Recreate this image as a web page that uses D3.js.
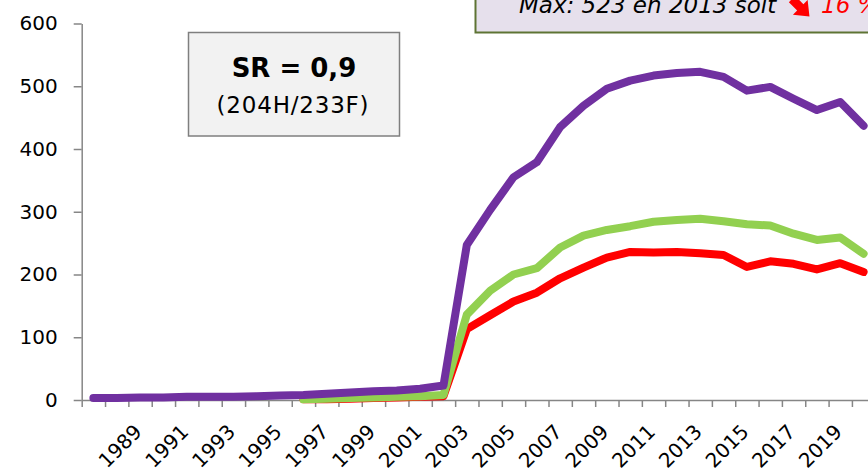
<!DOCTYPE html>
<html lang="fr">
<head>
<meta charset="utf-8">
<script src="https://d3js.org/d3.v7.min.js"></script>
<style>
  body { margin: 0; background: #fff; overflow: hidden; }
  svg text { font-family: "DejaVu Sans", sans-serif; }
</style>
</head>
<body>
<svg id="chart" width="868" height="474"></svg>
<script>

// annees (categories)
var years = [1987, 1988, 1989, 1990, 1991, 1992, 1993, 1994, 1995, 1996, 1997, 1998,
             1999, 2000, 2001, 2002, 2003, 2004, 2005, 2006, 2007, 2008, 2009, 2010,
             2011, 2012, 2013, 2014, 2015, 2016, 2017, 2018, 2019, 2020];

// total (violet)
var total = [3, 3, 4, 4, 5, 5, 5, 6, 7, 8, 10, 12,
             14, 15, 18, 23, 247, 303, 355, 379, 435, 469, 496, 509,
             517, 521, 523, 515, 493, 499, 480, 462, 475, 437];

// femmes (vert)
var femmes = [null, null, null, null, null, null, null, null, null, 1, 2, 3,
              4, 5, 6, 8, 136, 174, 200, 210, 243, 262, 271, 277,
              284, 287, 289, 285, 280, 278, 265, 255, 259, 233];

// hommes (rouge)
var hommes = [null, null, null, null, null, null, null, null, null, 1, 1, 2,
              3, 4, 5, 6, 113, 135, 157, 171, 194, 211, 227, 236,
              235, 236, 234, 231, 212, 221, 217, 208, 218, 204];

var yTicks = [0, 100, 200, 300, 400, 500, 600];
var xLabels = [1989, 1991, 1993, 1995, 1997, 1999, 2001, 2003, 2005, 2007,
               2009, 2011, 2013, 2015, 2017, 2019];

var svg = d3.select("#chart"),
    plotLeft = 81.7,
    step = 23.34,
    plotTop = 23.5,
    plotBottom = 400,
    axisColor = "#868686";

var x = d3.scaleBand()
    .domain(years)
    .range([plotLeft, plotLeft + step * years.length]);

// limites entre categories (graduations)
var xb = d3.scaleLinear()
    .domain([0, years.length])
    .range([plotLeft, plotLeft + step * years.length]);

var y = d3.scaleLinear()
    .domain([0, 600])
    .range([plotBottom, plotTop]);

// axe Y
var yAxis = svg.append("g")
    .attr("transform", "translate(" + plotLeft + ",0)")
    .call(d3.axisLeft(y).tickValues(yTicks).tickSize(8).tickPadding(16).tickSizeOuter(0));
yAxis.select(".domain").attr("stroke", axisColor).attr("stroke-width", 1.5);
yAxis.selectAll(".tick line").attr("stroke", axisColor).attr("stroke-width", 1.5);
yAxis.selectAll(".tick text")
    .attr("font-family", "DejaVu Sans")
    .attr("font-size", 20)
    .attr("fill", "#000");

// axe X
var xAxis = svg.append("g")
    .attr("transform", "translate(0," + plotBottom + ")")
    .call(d3.axisBottom(xb).tickValues(d3.range(0, years.length + 1))
        .tickSize(7).tickSizeOuter(0).tickFormat(""));
xAxis.select(".domain").attr("stroke", axisColor).attr("stroke-width", 1.5);
xAxis.selectAll(".tick line").attr("stroke", axisColor).attr("stroke-width", 1.5);

svg.append("g")
    .selectAll("text")
    .data(xLabels)
  .enter().append("text")
    .attr("transform", d => "translate(" + (x(d) + x.bandwidth() / 2 + 3) + ",433) rotate(-45)")
    .attr("text-anchor", "end")
    .attr("font-size", 20)
    .attr("fill", "#000")
    .text(d => d);

// courbes
var line = d3.line()
    .defined(d => d.v != null)
    .x(d => x(d.year) + x.bandwidth() / 2)
    .y(d => y(d.v));

var series = [
    {values: hommes, color: "#FF0000"},
    {values: femmes, color: "#92D050"},
    {values: total, color: "#7030A0"}
];

svg.append("g")
    .selectAll("path")
    .data(series)
  .enter().append("path")
    .attr("fill", "none")
    .attr("stroke", d => d.color)
    .attr("stroke-width", 8)
    .attr("stroke-linejoin", "round")
    .attr("stroke-linecap", "round")
    .attr("d", d => line(years.map((yr, i) => ({year: yr, v: d.values[i]}))));

// encadre SR
svg.append("rect")
    .attr("x", 188.5).attr("y", 32.5)
    .attr("width", 211).attr("height", 103.5)
    .attr("fill", "#F2F2F2")
    .attr("stroke", "#7F7F7F")
    .attr("stroke-width", 1.5);

svg.append("text")
    .attr("x", 294).attr("y", 77)
    .attr("text-anchor", "middle")
    .attr("font-size", 26)
    .attr("font-weight", "bold")
    .text("SR = 0,9");

svg.append("text")
    .attr("x", 293).attr("y", 113)
    .attr("text-anchor", "middle")
    .attr("font-size", 23)
    .attr("letter-spacing", 0.8)
    .text("(204H/233F)");

// encadre max
svg.append("rect")
    .attr("x", 475.5).attr("y", -40)
    .attr("width", 420).attr("height", 72.5)
    .attr("fill", "#E6E0EC")
    .attr("stroke", "#5E7434")
    .attr("stroke-width", 2);

svg.append("text")
    .attr("x", 519).attr("y", 13)
    .attr("font-size", 23)
    .attr("font-style", "italic")
    .text("Max: 523 en 2013 soit");

svg.append("path")
    .attr("transform", "translate(792,-1) rotate(45) scale(1.3)")
    .attr("d", "M0,-3.4 L9,-3.4 L9,-8 L19,0 L9,8 L9,3.4 L0,3.4 Z")
    .attr("fill", "#FF0000");

svg.append("text")
    .attr("x", 821).attr("y", 13)
    .attr("font-size", 23)
    .attr("font-style", "italic")
    .attr("fill", "#FF0000")
    .text("16 %");

</script>
</body>
</html>
